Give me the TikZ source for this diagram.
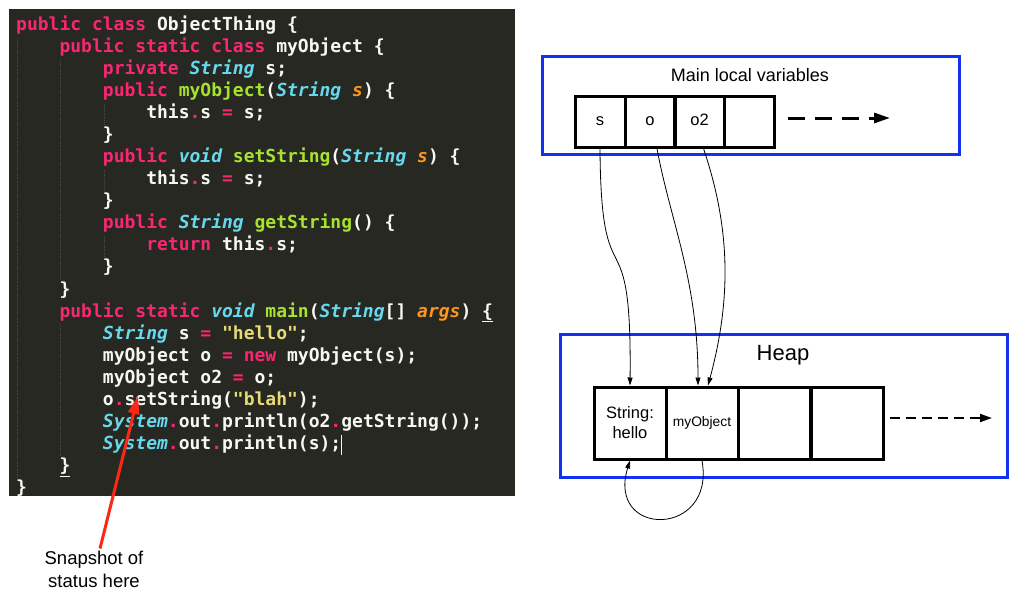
\documentclass[tikz,border=0pt]{standalone}
\usepackage{fontspec}
\setmonofont{DejaVu Sans Mono}
\newfontfamily\diafont{Liberation Sans}
\usetikzlibrary{arrows.meta}

\definecolor{codebg}{HTML}{272822}
\definecolor{codefg}{HTML}{F8F8F2}
\definecolor{kwpink}{HTML}{F92672}
\definecolor{tyblue}{HTML}{66D9EF}
\definecolor{fngreen}{HTML}{A6E22E}
\definecolor{argorange}{HTML}{FD971F}
\definecolor{stryellow}{HTML}{E6DB74}
\definecolor{guidegray}{HTML}{4A4A44}
\definecolor{boxblue}{RGB}{18,50,242}
\definecolor{snapred}{RGB}{250,40,20}

\newcommand{\kw}[1]{\textcolor{kwpink}{#1}}
\newcommand{\ty}[1]{\textcolor{tyblue}{\itshape #1}}
\newcommand{\fn}[1]{\textcolor{fngreen}{#1}}
\newcommand{\argm}[1]{\textcolor{argorange}{\itshape #1}}
\newcommand{\strg}[1]{\textcolor{stryellow}{#1}}
\newcommand{\matchbr}[1]{\underline{#1}}

\begin{document}
\begin{tikzpicture}[x=1pt,y=-1pt,
  codeline/.style={anchor=base west, inner sep=0pt, text=codefg,
    font=\fontsize{18}{22}\selectfont\ttfamily\bfseries},
  guide/.style={guidegray, densely dotted, line width=0.8pt},
  region/.style={boxblue, line width=3pt},
  varcell/.style={draw, line width=3pt, minimum width=50pt, minimum height=51pt,
    inner sep=0pt, text height=8pt, text depth=0pt,
    font=\diafont\fontsize{16.5}{19}\selectfont},
  heapcell/.style={draw, line width=3pt, minimum width=72pt, minimum height=72pt,
    inner sep=0pt, align=center, font=\diafont\fontsize{16.5}{20}\selectfont},
  ref/.style={line width=0.8pt, -{Triangle[length=8pt,width=5pt]}},
  moredash/.style={line width=3pt, dash pattern=on 17pt off 10pt,
    -{Triangle[length=16pt,width=10pt]}},
  heapdash/.style={line width=2pt, dash pattern=on 10pt off 6pt,
    -{Triangle[length=12pt,width=8pt]}},
  snaparrow/.style={snapred, line width=3pt, -{Triangle[length=18pt,width=11pt]}}]

  \useasboundingbox (0,0) rectangle (1018,600);

  % code panel
  \fill[codebg] (9,9) rectangle (515,496);
  \draw[guide] (17,38) -- (17,478);
  \draw[guide] (60,60) -- (60,278);
  \draw[guide] (60,324) -- (60,456);
  \draw[guide] (104,104) -- (104,124);
  \draw[guide] (104,170) -- (104,190);
  \draw[guide] (104,236) -- (104,256);

  \foreach \n/\lvl/\txt in {
    1/0/{\kw{public class} ObjectThing \{},
    2/1/{\kw{public static class} myObject \{},
    3/2/{\kw{private} \ty{String} s;},
    4/2/{\kw{public} \fn{myObject}(\ty{String} \argm{s}) \{},
    5/3/{this\kw{.}s \kw{=} s;},
    6/2/{\}},
    7/2/{\kw{public} \ty{void} \fn{setString}(\ty{String} \argm{s}) \{},
    8/3/{this\kw{.}s \kw{=} s;},
    9/2/{\}},
    10/2/{\kw{public} \ty{String} \fn{getString}() \{},
    11/3/{\kw{return} this\kw{.}s;},
    12/2/{\}},
    13/1/{\}},
    14/1/{\kw{public static} \ty{void} \fn{main}(\ty{String}[] \argm{args}) \matchbr{\{}},
    15/2/{\ty{String} s \kw{=} \strg{"hello"};},
    16/2/{myObject o \kw{=} \kw{new} myObject(s);},
    17/2/{myObject o2 \kw{=} o;},
    18/2/{o\kw{.}setString(\strg{"blah"});},
    19/2/{\ty{System}\kw{.}out\kw{.}println(o2\kw{.}getString());},
    20/2/{\ty{System}\kw{.}out\kw{.}println(s);\rule[-5pt]{0.8pt}{20pt}},
    21/1/{\matchbr{\}}},
    22/0/{\}}}
    \node[codeline] (line\n) at (16+43.36*\lvl, 30+22.09*\n-22.09) {\txt};

  % snapshot marker
  \node[inner sep=2pt, align=center, font=\diafont\fontsize{18.5}{23}\selectfont]
    (snap) at (94,569) {Snapshot of\\status here};
  \coordinate (snaptip) at (138,396);
  \draw[snaparrow] ([xshift=6pt]snap.north) -- (snaptip);

  % main local variables
  \draw[region] (542,56) rectangle (959,154);
  \node[font=\diafont\fontsize{18}{22}\selectfont] (maintitle) at (750,75) {Main local variables};
  \foreach \name/\x/\lbl in {vs/600/s, vo/650/o, vo2/699.5/o2, vnext/749/{}}
    \node[varcell] (\name) at (\x,121.5) {\lbl};
  \coordinate (vmore) at (890,118);
  \draw[moredash] ([shift={(12,-3.5)}]vnext.east) -- (vmore);

  % heap
  \draw[region] (560,334) rectangle (1007,477);
  \node[font=\diafont\fontsize{22}{26}\selectfont] (heaptitle) at (783,355) {Heap};
  \foreach \name/\x/\lbl in {hstr/630/{String:\\hello},
    hobj/702/{\fontsize{13.8}{16}\selectfont myObject}, hfree/774.5/{}, hlast/847/{}}
    \node[heapcell] (\name) at (\x,423) {\lbl};
  \coordinate (hmore) at (992,418);
  \draw[heapdash] ([shift={(5,-5)}]hlast.east) -- (hmore);

  % references
  \draw[ref] (vs.south) .. controls (601,310) and (632,205) .. (hstr.north);
  \draw[ref] ([xshift=7pt]vo.south) .. controls (670,220) and (698,280) .. ([xshift=-4pt]hobj.north);
  \draw[ref] ([xshift=4pt]vo2.south) .. controls (731,230) and (731,300) .. ([xshift=6pt]hobj.north);
  \draw[ref] (hobj.south) .. controls (716,538) and (606,538) .. (hstr.south);
\end{tikzpicture}
\end{document}
